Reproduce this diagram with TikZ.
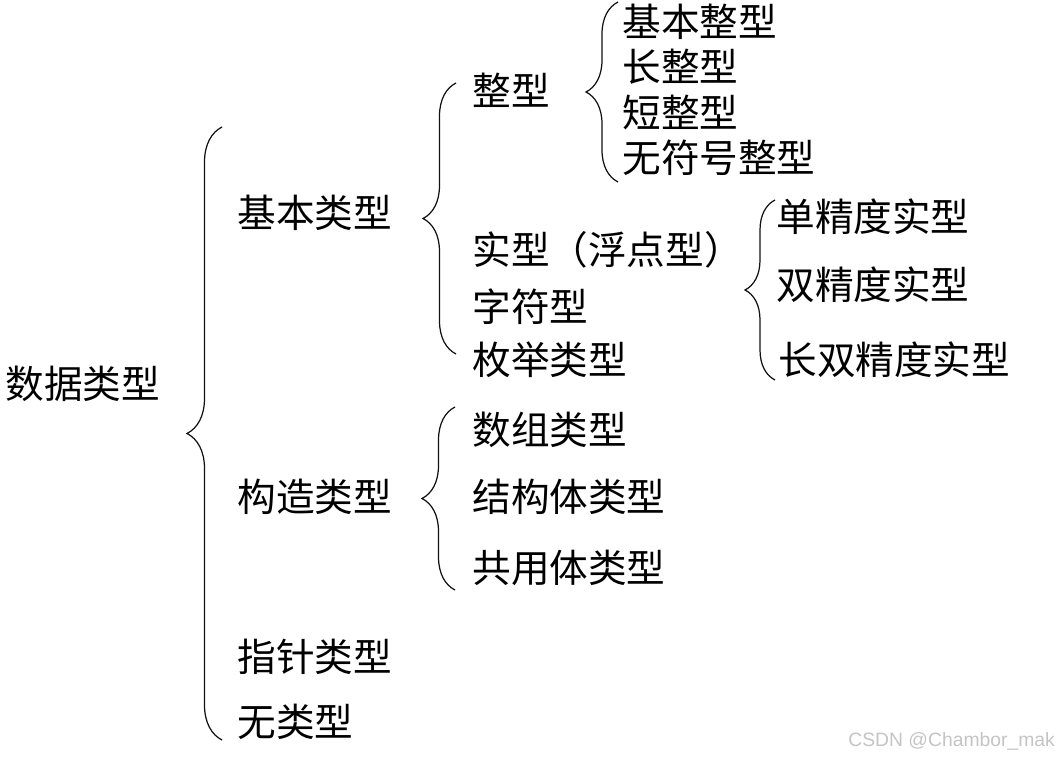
\documentclass[tikz,border=0pt]{standalone}
\usepackage{fontspec}
\usetikzlibrary{decorations.pathreplacing,positioning}
\newfontfamily\cjkfont{Noto Sans CJK SC}
\newfontfamily\markfont{Liberation Sans}
\definecolor{TreeInk}{HTML}{111111}
\definecolor{MarkGray}{HTML}{C4C4C4}

\begin{document}
\begin{tikzpicture}[x=0.02cm, y=-0.02cm,
    every node/.style={font=\cjkfont\fontsize{22pt}{26pt}\selectfont, anchor=west, inner sep=0pt, text=black},
    bracket/.style={decorate, decoration={brace, amplitude=#1}, line width=0.7pt, TreeInk}]
    \useasboundingbox (0,0) rectangle (1060,759);

    % root and first level
    \node (data) at (5,384) {数据类型};
    \node (basic) at (237,213) {基本类型};
    \node (constr) at (237,497) {构造类型};
    \node (ptr) at (237,657) {指针类型};
    \node (void) at (237,722) {无类型};

    % second level
    \node (int) at (472,90) {整型};
    \node (real) at (472,250) {实型（浮点型）};
    \node (char) at (472,307) {字符型};
    \node (enum) at (472,360) {枚举类型};
    \node (arr) at (472,430) {数组类型};
    \node (struct) at (472,497) {结构体类型};
    \node (union) at (472,568) {共用体类型};

    % third level
    \node (intb) at (622,22) {基本整型};
    \node (intl) at (622,67) {长整型};
    \node (ints) at (622,112) {短整型};
    \node (intu) at (622,158) {无符号整型};
    \node (flts) at (776,217) {单精度实型};
    \node (fltd) at (776,285) {双精度实型};
    \node (fltl) at (778,360) {长双精度实型};

    % brace ends
    \coordinate (data-bot) at (222,740);
    \coordinate (data-top) at (222,127);
    \coordinate (basic-bot) at (456,354);
    \coordinate (basic-top) at (456,83);
    \coordinate (int-bot) at (618,182);
    \coordinate (int-top) at (618,2);
    \coordinate (real-bot) at (775,380);
    \coordinate (real-top) at (775,200);
    \coordinate (constr-bot) at (455,590);
    \coordinate (constr-top) at (455,407);

    \draw[bracket=0.7cm] (data-bot) -- (data-top);
    \draw[bracket=0.66cm] (basic-bot) -- (basic-top);
    \draw[bracket=0.64cm] (int-bot) -- (int-top);
    \draw[bracket=0.6cm] (real-bot) -- (real-top);
    \draw[bracket=0.66cm] (constr-bot) -- (constr-top);

    \node[font=\markfont\fontsize{11pt}{13pt}\selectfont, text=MarkGray] (mark) at (848,741) {CSDN @Chambor\_mak};
\end{tikzpicture}
\end{document}
